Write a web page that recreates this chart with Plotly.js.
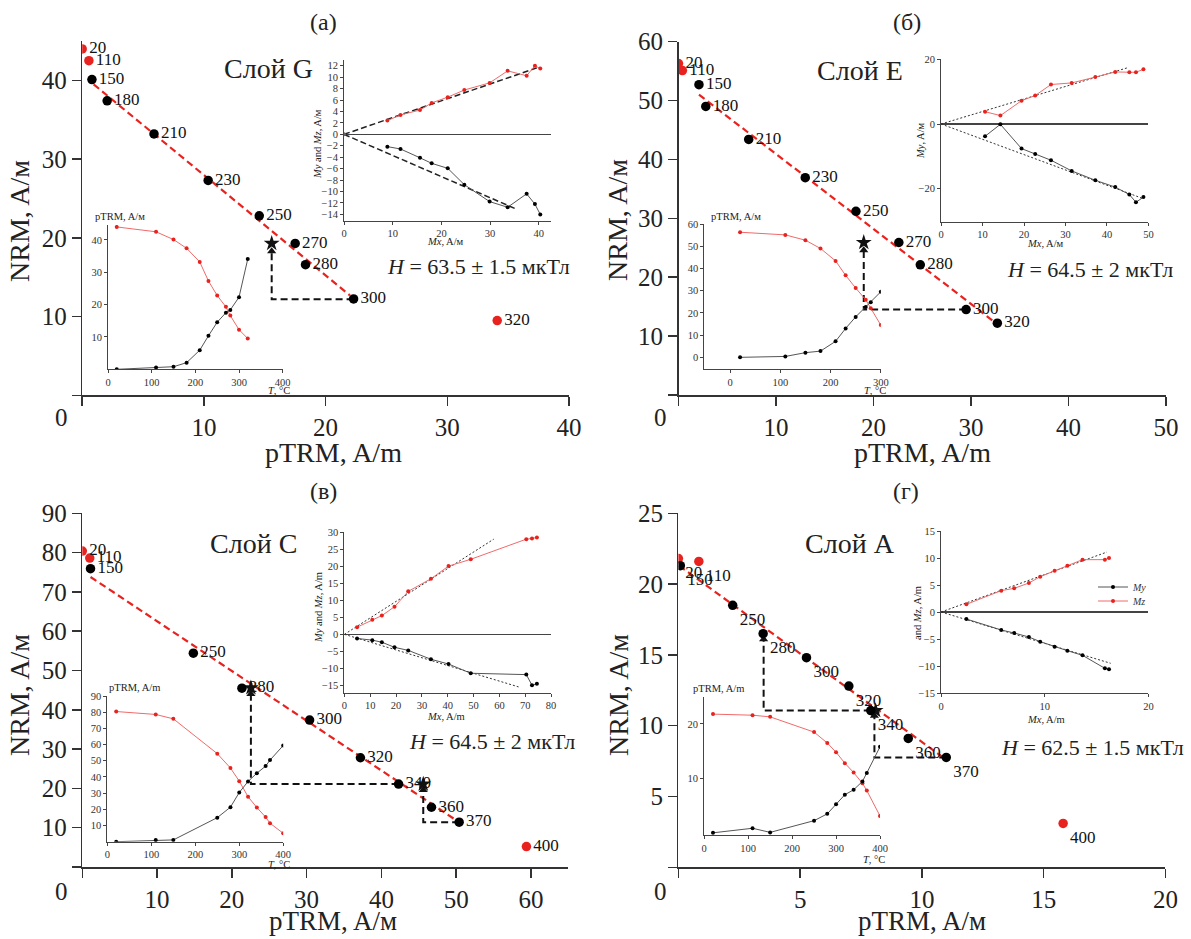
<!DOCTYPE html>
<html><head><meta charset="utf-8">
<script src="https://cdn.plot.ly/plotly-3.0.1.min.js"></script>
<style>html,body{margin:0;padding:0;background:#fff}</style>
</head><body>
<div id="chart" style="width:1191px;height:939px"></div>
<script>
// ---------------- DATA ----------------
// Panel (а) — Слой G
const T_A    = [20, 110, 150, 180, 210, 230, 250, 270, 280, 300, 320];
const pTRM_A = [0, 0.55, 0.8, 2.05, 5.9, 10.35, 14.55, 17.5, 18.35, 22.3, 34.1];
const NRM_A  = [44.0, 42.5, 40.1, 37.4, 33.2, 27.3, 22.8, 19.3, 16.6, 12.25, 9.5];
const rej_A  = [20, 110, 320];
const fit_A_x = [0.94, 22.0], fit_A_y = [39.5, 12.7];
const chk_A_x = [22.3, 15.57, 15.57], chk_A_y = [12.2, 12.2, 18.3];
const star_A_x = [15.57], star_A_y = [19.3];
const Mx_A = [8.9, 11.6, 15.6, 18.0, 21.3, 24.7, 29.9, 33.6, 37.5, 39.2, 40.3];
const My_A = [-2.15, -2.56, -4.1, -5.07, -5.94, -8.8, -11.76, -12.75, -10.4, -12.2, -14.0];
const Mz_A = [2.4, 3.4, 4.25, 5.5, 6.5, 7.75, 9.0, 11.1, 10.25, 12.0, 11.5];
const fitMz_A_x = [0, 40.2], fitMz_A_y = [0, 11.8];
const fitMy_A_x = [0, 35.2], fitMy_A_y = [0, -13.0];

// Panel (б) — Слой E
const T_B    = [20, 110, 150, 180, 210, 230, 250, 270, 280, 300, 320];
const pTRM_B = [0, 0.4, 2.1, 2.8, 7.2, 13.0, 18.2, 22.6, 24.8, 29.5, 32.7];
const NRM_B  = [56.3, 55.1, 52.7, 49.0, 43.4, 36.9, 31.2, 25.9, 22.1, 14.5, 12.2];
const rej_B  = [20, 110];
const fit_B_x = [2.1, 32.8], fit_B_y = [51.0, 11.9];
const chk_B_x = [29.5, 19.0, 19.0], chk_B_y = [14.5, 14.5, 24.6];
const star_B_x = [19.0], star_B_y = [25.9];
const Mx_B = [10.6, 14.3, 19.4, 22.7, 26.5, 31.5, 37.2, 42.0, 45.4, 47.0, 48.8];
const My_B = [-3.8, -0.1, -7.6, -9.3, -11.2, -14.5, -17.4, -19.5, -21.8, -24.2, -22.6];
const Mz_B = [3.8, 2.6, 7.2, 8.8, 12.2, 12.7, 14.5, 16.1, 16.0, 16.0, 16.9];
const fitMz_B_x = [0, 45.0], fitMz_B_y = [0, 17.4];
const fitMy_B_x = [0, 48.6], fitMy_B_y = [0, -23.0];

// Panel (в) — Слой C
const T_C    = [20, 110, 150, 250, 280, 300, 320, 340, 360, 370, 400];
const pTRM_C = [0, 1.0, 1.1, 14.85, 21.35, 30.4, 37.2, 42.3, 46.7, 50.4, 59.4];
const NRM_C  = [80.4, 78.6, 75.9, 54.4, 45.5, 37.4, 27.8, 21.1, 15.2, 11.4, 5.2];
const rej_C  = [20, 110, 400];
const fit_C_x = [1.1, 50.4], fit_C_y = [73.8, 11.4];
const chk_C1_x = [42.3, 22.55, 22.55], chk_C1_y = [21.1, 21.1, 44.0];
const chk_C2_x = [50.4, 45.6, 45.6], chk_C2_y = [11.4, 11.4, 19.6];
const star_C_x = [22.55, 45.6], star_C_y = [45.6, 21.1];
const Mx_C = [4.9, 10.8, 14.5, 19.4, 24.7, 33.5, 40.3, 48.9, 70.4, 72.6, 74.5];
const My_C = [-1.2, -1.7, -2.3, -3.8, -4.7, -7.3, -8.7, -11.4, -11.8, -14.9, -14.5];
const Mz_C = [2.1, 4.3, 5.5, 8.1, 12.6, 16.3, 20.0, 22.0, 27.9, 28.1, 28.4];
const fitMz_C_x = [0, 57.8], fitMz_C_y = [0, 27.9];
const fitMy_C_x = [0, 67.4], fitMy_C_y = [0, -15.4];

// Panel (г) — Слой A
const T_D    = [20, 110, 150, 250, 280, 300, 320, 340, 360, 370, 400];
const pTRM_D = [0, 0.84, 0.08, 2.23, 3.48, 5.26, 7.0, 7.9, 9.44, 11.0, 15.8];
const NRM_D  = [21.8, 21.6, 21.3, 18.5, 16.5, 14.8, 12.8, 11.07, 9.1, 7.76, 3.1];
const rej_D  = [20, 110, 400];
const fit_D_x = [0.03, 11.0], fit_D_y = [21.3, 7.6];
const chk_D1_x = [7.9, 3.5, 3.5], chk_D1_y = [11.07, 11.07, 16.1];
const chk_D2_x = [11.0, 8.05, 8.05], chk_D2_y = [7.76, 7.76, 10.7];
const star_D_x = [8.1], star_D_y = [11.07];
const Mx_D = [2.44, 5.8, 7.05, 8.47, 9.56, 10.95, 12.18, 13.64, 15.8, 16.2];
const My_D = [-1.3, -3.33, -3.89, -4.63, -5.49, -6.42, -7.16, -8.02, -10.43, -10.6];
const Mz_D = [1.42, 3.95, 4.38, 5.37, 6.54, 7.65, 8.58, 9.69, 9.69, 10.0];
const fitMz_D_x = [0, 16.0], fitMz_D_y = [0, 11.1];
const fitMy_D_x = [0, 16.36], fitMy_D_y = [0, -9.5];

// ---------------- STYLE / LAYOUT ----------------
const W = 1191, H = 939;
const SERIF = 'Liberation Serif, Times New Roman, serif';
const RED = '#e8231f';
const dx = (a, b) => [a / W, b / W];
const dy = (a, b) => [1 - b / H, 1 - a / H];

const traces = [];
function mainPanel(n, T, P, N, rej, fx, fy, checks, sx, sy, tpos) {
  const xa = 'x' + (n === 1 ? '' : n), ya = 'y' + (n === 1 ? '' : n);
  traces.push({x: fx, y: fy, xaxis: xa, yaxis: ya, mode: 'lines', showlegend: false,
    line: {color: RED, width: 2.2, dash: '7px,4px'}, hoverinfo: 'skip'});
  checks.forEach(c => {
    traces.push({x: c[0], y: c[1], xaxis: xa, yaxis: ya, mode: 'lines', showlegend: false,
      line: {color: '#111', width: 2, dash: '7px,4px'}, hoverinfo: 'skip'});
    traces.push({x: c[0].slice(-1), y: c[1].slice(-1), xaxis: xa, yaxis: ya, mode: 'markers',
      showlegend: false, marker: {symbol: 'triangle-up', size: 8, color: '#111'}, hoverinfo: 'skip'});
  });
  if (sx.length) traces.push({x: sx, y: sy, xaxis: xa, yaxis: ya, mode: 'markers', showlegend: false,
    marker: {symbol: 'star', size: 12, color: '#111'}});
  traces.push({x: P, y: N, xaxis: xa, yaxis: ya, mode: 'markers+text', showlegend: false,
    text: T.map(String), textposition: tpos,
    textfont: {family: SERIF, size: 17, color: '#111'},
    marker: {size: 9.5, color: T.map(t => rej.includes(t) ? RED : '#000')}});
}
function zijPanel(n, Mx, My, Mz, fzx, fzy, fyx, fyy, dashed, legend) {
  const xa = 'x' + n, ya = 'y' + n;
  const fl = dashed ? {color: '#222', width: 1.5, dash: '6px,3px'} : {color: '#333', width: 1, dash: '2px,2px'};
  traces.push({x: fzx, y: fzy, xaxis: xa, yaxis: ya, mode: 'lines', line: fl, showlegend: false});
  traces.push({x: fyx, y: fyy, xaxis: xa, yaxis: ya, mode: 'lines', line: fl, showlegend: false});
  traces.push({x: Mx, y: My, xaxis: xa, yaxis: ya, mode: 'lines+markers', name: '<i>My</i>',
    showlegend: !!legend, legend: 'legend',
    line: {color: '#555', width: 1}, marker: {color: '#000', size: 4}});
  traces.push({x: Mx, y: Mz, xaxis: xa, yaxis: ya, mode: 'lines+markers', name: '<i>Mz</i>',
    showlegend: !!legend, legend: 'legend2',
    line: {color: '#f06a6a', width: 1}, marker: {color: RED, size: 4}});
  if (dashed) traces.push({x: [0], y: [0], xaxis: xa, yaxis: ya, mode: 'markers', showlegend: false,
    marker: {color: '#666', size: 4}});
}
function tPanel(n, T, P, N) {
  const xa = 'x' + n, ya = 'y' + n;
  traces.push({x: T, y: N, xaxis: xa, yaxis: ya, mode: 'lines+markers', showlegend: false,
    line: {color: '#f06a6a', width: 1}, marker: {color: RED, size: 4}});
  traces.push({x: T, y: P, xaxis: xa, yaxis: ya, mode: 'lines+markers', showlegend: false,
    line: {color: '#555', width: 1}, marker: {color: '#000', size: 4}});
}

mainPanel(1, T_A, pTRM_A, NRM_A, rej_A, fit_A_x, fit_A_y, [[chk_A_x, chk_A_y]], star_A_x, star_A_y, 'middle right');
mainPanel(2, T_B, pTRM_B, NRM_B, rej_B, fit_B_x, fit_B_y, [[chk_B_x, chk_B_y]], star_B_x, star_B_y, 'middle right');
mainPanel(3, T_C, pTRM_C, NRM_C, rej_C, fit_C_x, fit_C_y, [[chk_C1_x, chk_C1_y], [chk_C2_x, chk_C2_y]], star_C_x, star_C_y, 'middle right');
mainPanel(4, T_D, pTRM_D, NRM_D, rej_D, fit_D_x, fit_D_y, [[chk_D1_x, chk_D1_y], [chk_D2_x, chk_D2_y]], star_D_x, star_D_y, 'bottom right');

zijPanel(5, Mx_A, My_A, Mz_A, fitMz_A_x, fitMz_A_y, fitMy_A_x, fitMy_A_y, true, false);
zijPanel(6, Mx_B, My_B, Mz_B, fitMz_B_x, fitMz_B_y, fitMy_B_x, fitMy_B_y, false, false);
zijPanel(7, Mx_C, My_C, Mz_C, fitMz_C_x, fitMz_C_y, fitMy_C_x, fitMy_C_y, false, false);
zijPanel(8, Mx_D, My_D, Mz_D, fitMz_D_x, fitMz_D_y, fitMy_D_x, fitMy_D_y, false, true);

tPanel(9, T_A, pTRM_A, NRM_A);
tPanel(10, T_B, pTRM_B, NRM_B);
tPanel(11, T_C, pTRM_C, NRM_C);
tPanel(12, T_D, pTRM_D, NRM_D);

function mAx(dom, range, vals, anchor) {
  return {domain: dom, range: range, anchor: anchor, tickvals: vals,
    ticktext: vals.map(v => v === 0 ? '' : String(v)),
    showline: true, linecolor: '#333', linewidth: 1.5, mirror: false,
    ticks: 'outside', ticklen: 9, tickwidth: 1.5, tickcolor: '#333',
    showgrid: false, zeroline: false, fixedrange: true,
    tickfont: {family: SERIF, size: 25, color: '#222'}};
}
function iAx(dom, range, vals, anchor, zl) {
  return {domain: dom, range: range, anchor: anchor, tickvals: vals,
    showline: true, linecolor: '#444', linewidth: 1,
    ticks: 'outside', ticklen: 3, tickwidth: 1, tickcolor: '#444',
    showgrid: false, zeroline: !!zl, zerolinecolor: '#444', zerolinewidth: 1.6, fixedrange: true,
    tickfont: {family: SERIF, size: 10.5, color: '#333'}};
}
const rng = (a, b, s) => { const r = []; for (let v = a; v <= b + 1e-9; v += s) r.push(+v.toFixed(6)); return r; };

const legStyle = {xanchor: 'left', yanchor: 'middle', bgcolor: 'rgba(0,0,0,0)',
  font: {family: SERIF, size: 10, color: '#333'}, itemwidth: 30, borderwidth: 0};
const layout = {
  width: W, height: H, margin: {l: 0, r: 0, t: 0, b: 0},
  paper_bgcolor: '#fff', plot_bgcolor: 'rgba(0,0,0,0)',
  font: {family: SERIF, color: '#222'},
  showlegend: true,
  legend: Object.assign({x: 1093 / W, y: 1 - 587 / H}, legStyle),
  legend2: Object.assign({x: 1093 / W, y: 1 - 601 / H}, legStyle),
  // main panels
  xaxis:  mAx(dx(82.2, 569), [0, 40], rng(0, 40, 10), 'y'),
  yaxis:  mAx(dy(41, 395.4), [0, 45], rng(0, 40, 10), 'x'),
  xaxis2: mAx(dx(678.5, 1166), [0, 50], rng(0, 50, 10), 'y2'),
  yaxis2: mAx(dy(41.7, 395), [0, 60], rng(0, 60, 10), 'x2'),
  xaxis3: mAx(dx(82.3, 568.3), [0, 65], rng(0, 60, 10), 'y3'),
  yaxis3: mAx(dy(513.3, 867), [0, 90], rng(0, 90, 10), 'x3'),
  xaxis4: mAx(dx(678.4, 1165.4), [0, 20], rng(0, 20, 5), 'y4'),
  yaxis4: mAx(dy(513.3, 867.3), [0, 25], rng(0, 25, 5), 'x4'),
  // Zijderveld insets
  xaxis5: iAx(dx(344, 550.5), [0, 42.4], rng(0, 40, 10), 'y5'),
  yaxis5: iAx(dy(60, 220.7), [-15.1, 13.0], rng(-14, 12, 2), 'x5', true),
  xaxis6: iAx(dx(941.1, 1148.4), [0, 50], rng(0, 50, 10), 'y6'),
  yaxis6: iAx(dy(59.3, 221.7), [-30.2, 20], [-20, 0, 20], 'x6', true),
  xaxis7: iAx(dx(344.4, 551.1), [0, 80], rng(0, 80, 10), 'y7'),
  yaxis7: iAx(dy(532, 692.7), [-17.1, 30], rng(-15, 30, 5), 'x7', true),
  xaxis8: iAx(dx(941.1, 1148.4), [0, 20], [0, 10, 20], 'y8'),
  yaxis8: iAx(dy(531, 693), [-15, 15], rng(-15, 15, 5), 'x8', true),
  // T insets
  xaxis9:  iAx(dx(108, 282.7), [0, 400], rng(0, 400, 100), 'y9'),
  yaxis9:  iAx(dy(225, 369.3), [0, 44.6], rng(10, 40, 10), 'x9'),
  xaxis10: iAx(dx(704.4, 880.8), [-51, 300], rng(0, 300, 100), 'y10'),
  yaxis10: iAx(dy(224, 369), [-5.25, 60], rng(0, 60, 10), 'x10'),
  xaxis11: iAx(dx(107.4, 283.2), [0, 400], rng(0, 400, 100), 'y11'),
  yaxis11: iAx(dy(696, 841.7), [0, 90], rng(10, 90, 10), 'x11'),
  xaxis12: iAx(dx(704.2, 880), [0, 400], rng(0, 400, 100), 'y12'),
  yaxis12: iAx(dy(696.7, 835), [-0.4, 25], [10, 20], 'x12'),
  annotations: []
};

function txt(x, y, text, size, extra) {
  layout.annotations.push(Object.assign({xref: 'paper', yref: 'paper', x: x / W, y: 1 - y / H,
    text: text, showarrow: false, xanchor: 'center', yanchor: 'middle',
    font: {family: SERIF, size: size, color: '#222'}}, extra || {}));
}
// panel titles
txt(323, 22, '(а)', 24); txt(907, 22, '(б)', 24);
txt(323, 491, '(в)', 24); txt(906, 491, '(г)', 24);
// layer names
txt(268, 69, 'Слой G', 28); txt(860, 70, 'Слой E', 28);
txt(253, 543, 'Слой C', 28); txt(850, 543, 'Слой A', 28);
// field estimates
txt(478, 266, '<i>H</i> = 63.5 ± 1.5 мкТл', 22);
txt(1090, 270, '<i>H</i> = 64.5 ± 2 мкТл', 22);
txt(492, 741, '<i>H</i> = 64.5 ± 2 мкТл', 22);
txt(1092, 747, '<i>H</i> = 62.5 ± 1.5 мкТл', 22);
// main axis titles
txt(19, 221, 'NRM, A/м', 28, {textangle: -90});
txt(618, 220, 'NRM, A/м', 28, {textangle: -90});
txt(19, 695, 'NRM, A/м', 28, {textangle: -90});
txt(618, 695, 'NRM, A/м', 28, {textangle: -90});
txt(333, 453, 'pTRM, A/m', 28); txt(922, 453, 'pTRM, A/m', 28);
txt(333, 921, 'pTRM, A/м', 27); txt(922, 921, 'pTRM, A/м', 27);
// origin "0"
txt(61, 418, '0', 25); txt(660, 418, '0', 25); txt(61, 891, '0', 25); txt(660, 891, '0', 25);
// inset labels
txt(317, 144, '<i>My</i> and <i>Mz</i>, A/м', 10.5, {textangle: -90});
txt(445, 242, '<i>Mx</i>, A/м', 10.5);
txt(120, 216, 'pTRM, A/м', 10.5);
txt(279, 390, '<i>T</i>, °C', 10.5);
txt(920, 140, '<i>My</i>, A/м', 10.5, {textangle: -90});
txt(1045, 244, '<i>Mx</i>, A/м', 10.5);
txt(736, 216, 'pTRM, A/м', 10.5);
txt(875, 390, '<i>T</i>, °C', 10.5);
txt(318, 608, '<i>My</i> and <i>Mz</i>, A/m', 10.5, {textangle: -90});
txt(446, 716, '<i>Mx</i>, A/m', 10.5);
txt(134, 687, 'pTRM, A/m', 10.5);
txt(279, 864, '<i>T</i>, °C', 10.5);
txt(917, 613, 'and <i>Mz</i>, A/m', 10.5, {textangle: -90});
txt(1046, 719, '<i>Mx</i>, A/m', 10.5);
txt(718, 688, 'pTRM, A/m', 10.5);
txt(874, 859, '<i>T</i>, °C', 10.5);

Plotly.newPlot('chart', traces, layout, {staticPlot: true, displayModeBar: false});
</script>
</body></html>
